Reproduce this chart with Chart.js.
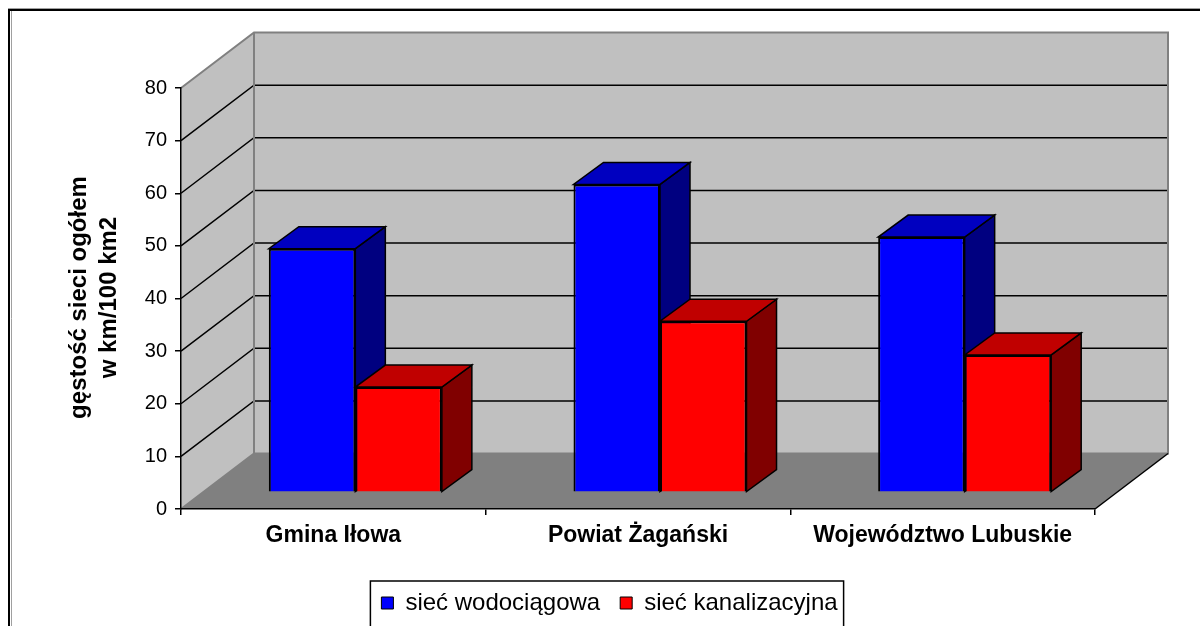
<!DOCTYPE html>
<html>
<head>
<meta charset="utf-8">
<script src="https://cdn.jsdelivr.net/npm/chart.js@4.4.1/dist/chart.umd.min.js"></script>
<style>
  html, body { margin: 0; padding: 0; background: #ffffff; }
  #wrap { width: 1200px; height: 626px; }
</style>
</head>
<body>
<div id="wrap"><canvas id="chart" width="1200" height="626"></canvas></div>
<script>
// Network density (km of network per 100 km2)
const categories = ['Gmina Iłowa', 'Powiat Żagański', 'Województwo Lubuskie'];
const seriesNames = ['sieć wodociągowa', 'sieć kanalizacyjna'];
const waterNetwork = [46.3, 58.5, 48.5];
const sewerNetwork = [20.0, 32.5, 26.1];
const yTickValues = [0, 10, 20, 30, 40, 50, 60, 70, 80];
const yTitleLines = ['gęstość sieci ogółem', 'w km/100 km2'];

const FONT = "'Liberation Sans', Arial, sans-serif";

// Oblique 3D projection offsets (px)
const DEPTH = { wallX: 73, wallY: -55.5, barX: 22, barY: -16.7, sideX: 30, sideY: -22 };
const SHADE = { wall: '#C0C0C0', floor: '#808080', edge: '#808080' };
const FRONT_COLORS = ['#0000FF', '#FF0000'];
const TOP_COLORS = ['#0000C0', '#C00000'];
const SIDE_COLORS = ['#000080', '#800000'];

function poly(ctx, pts, fill, stroke) {
  ctx.beginPath();
  pts.forEach(([px, py], k) => (k ? ctx.lineTo(px, py) : ctx.moveTo(px, py)));
  ctx.closePath();
  if (fill) { ctx.fillStyle = fill; ctx.fill(); }
  if (stroke) ctx.stroke();
}

const box3d = {
  id: 'box3d',
  // walls, floor and gridlines behind everything
  beforeDraw(chart) {
    const { ctx, chartArea: a, scales: { y } } = chart;
    const wx = DEPTH.wallX, wy = DEPTH.wallY;
    ctx.save();
    poly(ctx, [[a.left, a.bottom], [a.left + wx, a.bottom + wy], [a.left + wx, a.top + wy], [a.left, a.top]], SHADE.wall);
    poly(ctx, [[a.left + wx, a.top + wy], [a.right + wx, a.top + wy], [a.right + wx, a.bottom + wy], [a.left + wx, a.bottom + wy]], SHADE.wall);
    poly(ctx, [[a.left, a.bottom], [a.left + wx, a.bottom + wy], [a.right + wx, a.bottom + wy], [a.right, a.bottom]], SHADE.floor);

    ctx.strokeStyle = '#000';
    ctx.lineWidth = 1.5;
    yTickValues.slice(1, -1).forEach(v => {
      const py = y.getPixelForValue(v);
      ctx.beginPath();
      ctx.moveTo(a.left, py);
      ctx.lineTo(a.left + wx, py + wy);
      ctx.lineTo(a.right + wx, py + wy);
      ctx.stroke();
    });

    ctx.strokeStyle = SHADE.edge;
    ctx.lineWidth = 2;
    ctx.beginPath();
    ctx.moveTo(a.left, a.top);
    ctx.lineTo(a.left + wx, a.top + wy);
    ctx.lineTo(a.right + wx, a.top + wy);
    ctx.lineTo(a.right + wx, a.bottom + wy);
    ctx.lineTo(a.left + wx, a.bottom + wy);
    ctx.lineTo(a.left, a.bottom);
    ctx.moveTo(a.left + wx, a.top + wy);
    ctx.lineTo(a.left + wx, a.bottom + wy);
    ctx.stroke();

    ctx.strokeStyle = '#000';
    ctx.lineWidth = 1.5;
    ctx.beginPath();
    ctx.moveTo(a.right, a.bottom);
    ctx.lineTo(a.right + wx, a.bottom + wy);
    ctx.stroke();
    ctx.restore();
  },
  // side and top faces of each column, then shift the fronts into depth
  beforeDatasetsDraw(chart) {
    const ctx = chart.ctx;
    const metas = chart.getSortedVisibleDatasetMetas();
    const sx = DEPTH.sideX, sy = DEPTH.sideY;
    ctx.save();
    ctx.strokeStyle = '#000';
    ctx.lineWidth = 1.5;
    ctx.lineJoin = 'miter';
    for (let i = 0; i < chart.data.labels.length; i++) {
      metas.forEach((meta, d) => {
        const { x, y, base, width } = meta.data[i].getProps(['x', 'y', 'base', 'width'], true);
        const l = x - width / 2 + DEPTH.barX, r = x + width / 2 + DEPTH.barX;
        const t = y + DEPTH.barY, b = base + DEPTH.barY;
        poly(ctx, [[r, t], [r + sx, t + sy], [r + sx, b + sy], [r, b]], SIDE_COLORS[d], true);
        poly(ctx, [[l, t], [r, t], [r + sx, t + sy], [l + sx, t + sy]], TOP_COLORS[d], true);
      });
    }
    ctx.restore();
    ctx.save();
    ctx.translate(DEPTH.barX, DEPTH.barY);
  },
  afterDatasetsDraw(chart) {
    chart.ctx.restore();
  },
  // axis title, legend frame and outer frame
  afterDraw(chart) {
    const { ctx, chartArea: a } = chart;
    ctx.save();
    ctx.fillStyle = '#000';
    ctx.font = 'bold 24px ' + FONT;
    ctx.textAlign = 'center';
    ctx.textBaseline = 'middle';
    const cy = (a.top + a.bottom) / 2 - 1;
    yTitleLines.forEach((line, k) => {
      ctx.save();
      ctx.translate(79 + k * 30, cy);
      ctx.rotate(-Math.PI / 2);
      ctx.fillText(line, 0, 0);
      ctx.restore();
    });

    const lg = chart.legend;
    const hb = lg.legendHitBoxes;
    const last = hb[hb.length - 1];
    const pad = lg.options.labels.padding;
    const midY = lg.top + pad + 12;
    const left = hb[0].left - 11;
    const right = last.left + last.width + 6;
    ctx.strokeStyle = '#000';
    ctx.lineWidth = 1.5;
    ctx.strokeRect(left, midY - 22, right - left, 80);

    ctx.strokeStyle = '#a0a0a0';
    ctx.lineWidth = 1;
    ctx.beginPath();
    ctx.moveTo(8, 8.5); ctx.lineTo(1200, 8.5);
    ctx.moveTo(11.5, 11); ctx.lineTo(11.5, 626);
    ctx.stroke();
    ctx.strokeStyle = '#000';
    ctx.lineWidth = 2;
    ctx.beginPath();
    ctx.moveTo(9, 626); ctx.lineTo(9, 10); ctx.lineTo(1200, 10);
    ctx.stroke();
    ctx.restore();
  }
};

new Chart(document.getElementById('chart'), {
  type: 'bar',
  data: {
    labels: categories,
    datasets: [
      { label: seriesNames[0], data: waterNetwork, backgroundColor: FRONT_COLORS[0], borderColor: '#000', borderWidth: 2 },
      { label: seriesNames[1], data: sewerNetwork, backgroundColor: FRONT_COLORS[1], borderColor: '#000', borderWidth: 2 }
    ]
  },
  options: {
    responsive: false,
    animation: false,
    devicePixelRatio: 1,
    layout: { padding: { left: 124, right: 105, top: 88, bottom: 1 } },
    datasets: { bar: { categoryPercentage: 0.568, barPercentage: 1 } },
    plugins: {
      tooltip: { enabled: false },
      legend: {
        position: 'bottom',
        labels: {
          color: '#000',
          font: { size: 24, family: FONT },
          boxWidth: 12,
          boxHeight: 12,
          padding: 20,
          generateLabels: (chart) => chart.data.datasets.map((ds, i) => ({
            text: ds.label,
            fillStyle: ds.backgroundColor,
            strokeStyle: '#000',
            lineWidth: 1,
            hidden: false,
            datasetIndex: i,
            fontColor: '#000'
          }))
        }
      }
    },
    scales: {
      x: {
        afterFit: (s) => { s.height = 62; },
        ticks: { color: '#000', font: { size: 23, weight: 'bold', family: FONT }, padding: 7, maxRotation: 0 },
        grid: { drawOnChartArea: false, drawTicks: true, tickLength: 6, color: '#000', lineWidth: 1.5, offset: true },
        border: { display: true, color: '#000', width: 1.5 }
      },
      y: {
        min: yTickValues[0],
        max: yTickValues[yTickValues.length - 1],
        afterBuildTicks: (s) => { s.ticks = yTickValues.map(v => ({ value: v })); },
        afterFit: (s) => { s.width = 57; },
        ticks: { color: '#000', font: { size: 20, family: FONT }, padding: 8 },
        grid: { drawOnChartArea: false, drawTicks: true, tickLength: 6, color: '#000', lineWidth: 1.5 },
        border: { display: true, color: '#000', width: 1.5 }
      }
    }
  },
  plugins: [box3d]
});
</script>
</body>
</html>
